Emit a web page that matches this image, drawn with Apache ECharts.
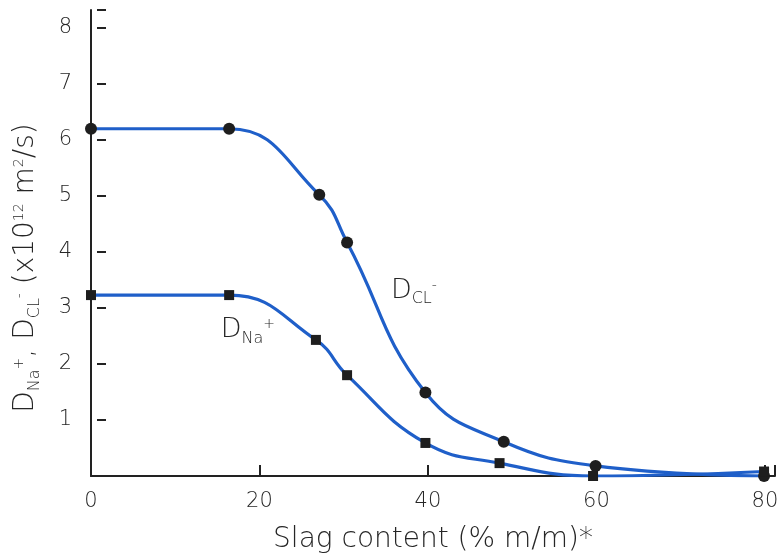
<!DOCTYPE html>
<html>
<head>
<meta charset="utf-8">
<script src="https://cdn.jsdelivr.net/npm/echarts@6/dist/echarts.min.js"></script>
<style>
  html, body { margin: 0; padding: 0; background: #fff; }
  #chart { width: 777px; height: 556px; }
</style>
</head>
<body>
<div id="chart"></div>
<script>
// slag content (% m/m) and diffusion coefficients
var clX = [0, 16.4, 27.1, 30.4, 39.7, 49.0, 59.9, 79.9];
var clY = [6.2, 6.2, 5.02, 4.17, 1.49, 0.61, 0.18, 0.0];
var naX = [0, 16.4, 26.7, 30.4, 39.7, 48.5, 59.6, 79.9];
var naY = [3.23, 3.23, 2.43, 1.8, 0.59, 0.23, 0.0, 0.08];
var xTicks = [0, 20, 40, 60, 80];
var yTicks = [1, 2, 3, 4, 5, 6, 7, 8];

var font = 'DejaVu Sans';
var txt = '#262626';
var blue = '#1f5fc9';

function pairs(xs, ys) {
  return xs.map(function (x, i) { return [x, ys[i]]; });
}

// sub/superscript styles shared by the rich labels
var subSup = {
  sub: { fontFamily: font, fontWeight: 300, fontSize: 16, color: txt, fill: txt, verticalAlign: 'bottom', lineHeight: 15 },
  sup: { fontFamily: font, fontWeight: 300, fontSize: 14, color: txt, fill: txt, verticalAlign: 'top', lineHeight: 15, padding: [3, 0, 0, 0] }
};

var myChart = echarts.init(document.getElementById('chart'));

var option = {
  backgroundColor: '#fff',
  animation: false,
  grid: { left: 91, right: 2, top: 10, bottom: 80, outerBoundsMode: 'none', containLabel: false },
  xAxis: {
    type: 'value',
    min: 0,
    max: 81.2,
    interval: 20,
    name: 'Slag content (% m/m)*',
    nameLocation: 'middle',
    nameGap: 50,
    nameTextStyle: { fontFamily: font, fontWeight: 300, fontSize: 28, color: txt },
    axisLine: { onZero: false, lineStyle: { color: '#222', width: 2 } },
    axisTick: { inside: true, length: 11, lineStyle: { color: '#222', width: 2 } },
    axisLabel: {
      margin: 15, fontFamily: font, fontWeight: 300, fontSize: 21, color: txt,
      formatter: function (v) { return xTicks.indexOf(v) >= 0 ? v : ''; }
    },
    splitLine: { show: false }
  },
  yAxis: {
    type: 'value',
    min: 0,
    max: 8.32,
    interval: 1,
    axisLine: { onZero: false, lineStyle: { color: '#222', width: 2 } },
    axisTick: { inside: true, length: 15, lineStyle: { color: '#222', width: 2, type: [0, 6, 9, 60] } },
    axisLabel: {
      margin: 19, fontFamily: font, fontWeight: 300, fontSize: 21, color: txt,
      formatter: function (v) { return yTicks.indexOf(v) >= 0 ? v : ''; }
    },
    splitLine: { show: false }
  },
  graphic: [{
    type: 'text',
    x: 26,
    y: 268,
    rotation: Math.PI / 2,
    style: {
      text: 'D{sub|Na}{sup|+}, D{sub|CL}{sup|-} (x10{sup|12} m{sup|2}/s)',
      fontFamily: font,
      fontWeight: 300,
      fontSize: 28,
      lineHeight: 34,
      fill: txt,
      align: 'center',
      verticalAlign: 'middle',
      rich: subSup
    }
  }],
  series: [
    {
      type: 'line',
      name: 'Cl',
      data: pairs(clX, clY),
      smooth: 0.45,
      symbol: 'circle',
      symbolSize: 12,
      itemStyle: { color: '#1e1e1e' },
      lineStyle: { color: blue, width: 3.2 },
      z: 3,
      markPoint: {
        symbol: 'circle',
        symbolSize: 0,
        data: [{ coord: [35.6, 3.3] }],
        label: {
          show: true,
          position: 'right',
          distance: 0,
          formatter: 'D{sub|CL}{sup|-}',
          fontFamily: font,
          fontWeight: 300,
          fontSize: 27,
          lineHeight: 32,
          color: txt,
          rich: subSup
        }
      }
    },
    {
      type: 'line',
      name: 'Na',
      data: pairs(naX, naY),
      smooth: 0.45,
      symbol: 'rect',
      symbolSize: 10,
      itemStyle: { color: '#1e1e1e' },
      lineStyle: { color: blue, width: 3.2 },
      z: 3,
      markPoint: {
        symbol: 'circle',
        symbolSize: 0,
        data: [{ coord: [15.4, 2.6] }],
        label: {
          show: true,
          position: 'right',
          distance: 0,
          formatter: 'D{sub|Na}{sup|+}',
          fontFamily: font,
          fontWeight: 300,
          fontSize: 27,
          lineHeight: 32,
          color: txt,
          rich: subSup
        }
      }
    }
  ]
};

myChart.setOption(option);
</script>
</body>
</html>
